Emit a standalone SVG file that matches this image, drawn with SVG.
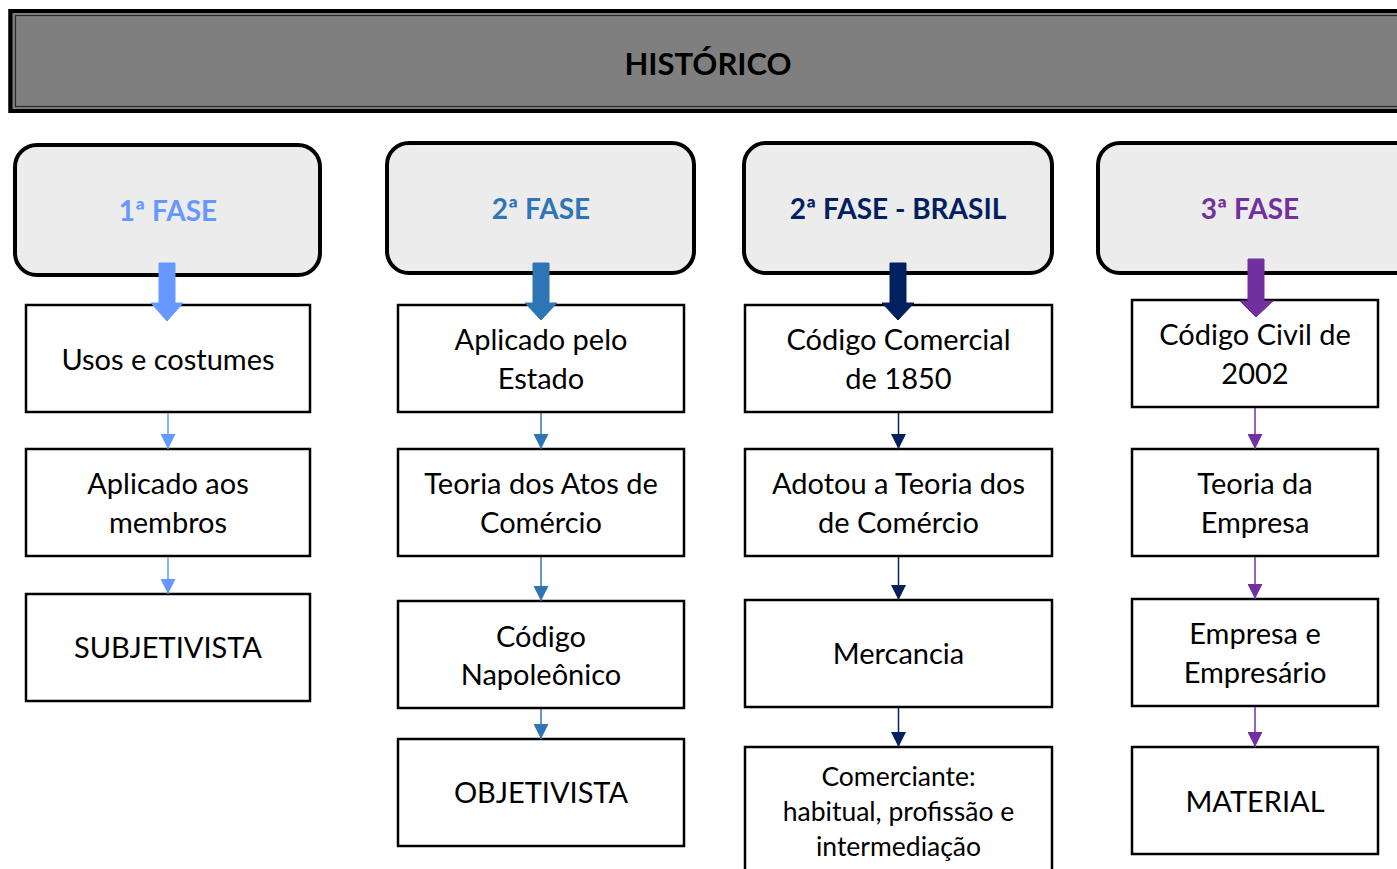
<svg xmlns="http://www.w3.org/2000/svg" width="1397" height="869" viewBox="0 0 1397 869">
<defs>
<style>
.ph{fill:#ececec;stroke:#000;stroke-width:4}
.bx{fill:#fff;stroke:#000;stroke-width:2.5}
.t{font-family:Lato,"Liberation Sans",sans-serif;font-size:29px;fill:#000;text-anchor:middle}
.ts{font-size:26.5px}
.pt{font-family:Lato,"Liberation Sans",sans-serif;font-size:28px;font-weight:bold;text-anchor:middle}
.c1{stroke:#6699ff;fill:#6699ff}
.c2{stroke:#2e75b6;fill:#2e75b6}
.c3{stroke:#002060;fill:#002060}
.c4{stroke:#7030a0;fill:#7030a0}
.ln{stroke-width:1.5;fill:none}
</style>
<marker id="m1" viewBox="0 0 10 10" refX="10" refY="5" markerWidth="15" markerHeight="15" markerUnits="userSpaceOnUse" orient="auto"><path d="M0,0L10,5L0,10z" fill="#6699ff"/></marker>
<marker id="m2" viewBox="0 0 10 10" refX="10" refY="5" markerWidth="15" markerHeight="15" markerUnits="userSpaceOnUse" orient="auto"><path d="M0,0L10,5L0,10z" fill="#2e75b6"/></marker>
<marker id="m3" viewBox="0 0 10 10" refX="10" refY="5" markerWidth="15" markerHeight="15" markerUnits="userSpaceOnUse" orient="auto"><path d="M0,0L10,5L0,10z" fill="#002060"/></marker>
<marker id="m4" viewBox="0 0 10 10" refX="10" refY="5" markerWidth="15" markerHeight="15" markerUnits="userSpaceOnUse" orient="auto"><path d="M0,0L10,5L0,10z" fill="#7030a0"/></marker>
</defs>
<rect width="1397" height="869" fill="#fff"/>

<g id="header">
<rect x="8" y="9" width="1400" height="104" fill="#7f7f7f"/>
<rect x="10.5" y="11" width="1400" height="100" fill="none" stroke="#000" stroke-width="4"/>
<rect x="15.5" y="15.5" width="1400" height="91" fill="none" stroke="#2a2a2a" stroke-width="1.2"/>
<text x="708" y="75" font-family="Lato,'Liberation Sans',sans-serif" font-size="31" font-weight="bold" text-anchor="middle" fill="#000">HISTÓRICO</text>
</g>

<g id="fase1">
<rect class="ph" x="15" y="145" width="305" height="130" rx="22"/>
<text class="pt" x="168" y="221" fill="#6699ff">1ª FASE</text>
</g>
<g id="fase2">
<rect class="ph" x="387" y="143" width="307" height="130" rx="22"/>
<text class="pt" x="541" y="219" fill="#2e75b6">2ª FASE</text>
</g>
<g id="fase2br">
<rect class="ph" x="744" y="143" width="308" height="130" rx="22"/>
<text class="pt" x="898" y="219" fill="#002060">2ª FASE - BRASIL</text>
</g>
<g id="fase3">
<rect class="ph" x="1098" y="143" width="320" height="130" rx="22"/>
<text class="pt" x="1250" y="219" fill="#7030a0">3ª FASE</text>
</g>

<g id="c1b1"><rect class="bx" x="26" y="305" width="284" height="107"/><text class="t" x="168" y="370">Usos e costumes</text></g>
<g id="c1b2"><rect class="bx" x="26" y="449" width="284" height="107"/><text class="t" x="168" y="494">Aplicado aos</text><text class="t" x="168" y="533">membros</text></g>
<g id="c1b3"><rect class="bx" x="26" y="594" width="284" height="107"/><text class="t" x="168" y="658">SUBJETIVISTA</text></g>

<g id="c2b1"><rect class="bx" x="398" y="305" width="286" height="107"/><text class="t" x="541" y="350">Aplicado pelo</text><text class="t" x="541" y="389">Estado</text></g>
<g id="c2b2"><rect class="bx" x="398" y="449" width="286" height="107"/><text class="t" x="541" y="494">Teoria dos Atos de</text><text class="t" x="541" y="533">Comércio</text></g>
<g id="c2b3"><rect class="bx" x="398" y="601" width="286" height="107"/><text class="t" x="541" y="647">Código</text><text class="t" x="541" y="685">Napoleônico</text></g>
<g id="c2b4"><rect class="bx" x="398" y="739" width="286" height="107"/><text class="t" x="541" y="803">OBJETIVISTA</text></g>

<g id="c3b1"><rect class="bx" x="745" y="305" width="307" height="107"/><text class="t" x="898.5" y="350">Código Comercial</text><text class="t" x="898.5" y="389">de 1850</text></g>
<g id="c3b2"><rect class="bx" x="745" y="449" width="307" height="107"/><text class="t" x="898.5" y="494">Adotou a Teoria dos</text><text class="t" x="898.5" y="533">de Comércio</text></g>
<g id="c3b3"><rect class="bx" x="745" y="600" width="307" height="107"/><text class="t" x="898.5" y="664">Mercancia</text></g>
<g id="c3b4"><rect class="bx" x="745" y="747" width="307" height="130"/><text class="t ts" x="898.5" y="786">Comerciante:</text><text class="t ts" x="898.5" y="821">habitual, profissão e</text><text class="t ts" x="898.5" y="856">intermediação</text></g>

<g id="c4b1"><rect class="bx" x="1132" y="300" width="246" height="107"/><text class="t" x="1255" y="345">Código Civil de</text><text class="t" x="1255" y="384">2002</text></g>
<g id="c4b2"><rect class="bx" x="1132" y="449" width="246" height="107"/><text class="t" x="1255" y="494">Teoria da</text><text class="t" x="1255" y="533">Empresa</text></g>
<g id="c4b3"><rect class="bx" x="1132" y="599" width="246" height="107"/><text class="t" x="1255" y="644">Empresa e</text><text class="t" x="1255" y="683">Empresário</text></g>
<g id="c4b4"><rect class="bx" x="1132" y="747" width="246" height="107"/><text class="t" x="1255" y="812">MATERIAL</text></g>

<g id="connectors">
<polygon class="c1" stroke="none" points="159,263 175,263 175,303 183,303 167,321 151,303 159,303"/>
<polygon class="c2" stroke="none" points="533,263 549,263 549,303 557,303 541,320 525,303 533,303"/>
<polygon class="c3" stroke="none" points="890,263 906,263 906,303 914,303 898,320 882,303 890,303"/>
<polygon class="c4" stroke="none" points="1248,259 1264,259 1264,301 1273,301 1256,317 1240,301 1248,301"/>

<line class="c1 ln" x1="168" y1="413" x2="168" y2="449" marker-end="url(#m1)"/>
<line class="c1 ln" x1="168" y1="557" x2="168" y2="594" marker-end="url(#m1)"/>

<line class="c2 ln" x1="541" y1="413" x2="541" y2="449" marker-end="url(#m2)"/>
<line class="c2 ln" x1="541" y1="557" x2="541" y2="601" marker-end="url(#m2)"/>
<line class="c2 ln" x1="541" y1="709" x2="541" y2="739" marker-end="url(#m2)"/>

<line class="c3 ln" x1="898.5" y1="413" x2="898.5" y2="449" marker-end="url(#m3)"/>
<line class="c3 ln" x1="898.5" y1="557" x2="898.5" y2="600" marker-end="url(#m3)"/>
<line class="c3 ln" x1="898.5" y1="708" x2="898.5" y2="747" marker-end="url(#m3)"/>

<line class="c4 ln" x1="1255" y1="408" x2="1255" y2="449" marker-end="url(#m4)"/>
<line class="c4 ln" x1="1255" y1="557" x2="1255" y2="599" marker-end="url(#m4)"/>
<line class="c4 ln" x1="1255" y1="707" x2="1255" y2="747" marker-end="url(#m4)"/>
</g>
</svg>
